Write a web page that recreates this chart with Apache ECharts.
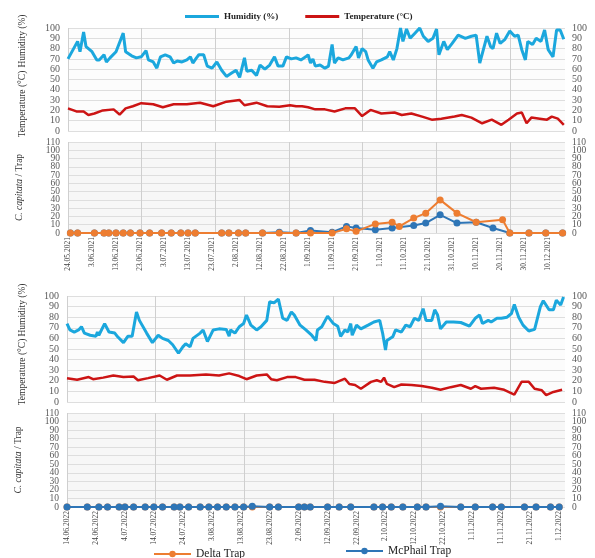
<!DOCTYPE html>
<html><head><meta charset="utf-8">
<script src="https://cdn.jsdelivr.net/npm/echarts@6/dist/echarts.min.js"></script>
<style>html,body{margin:0;padding:0;background:#fff}#c{width:595px;height:558px}</style>
</head><body><div id="c"></div>
<script>
// ---------- 2021 (top panel) ----------
const labels2021 = ['24.05.2021','3.06.2021','13.06.2021','23.06.2021','3.07.2021','13.07.2021','23.07.2021','2.08.2021','12.08.2021','22.08.2021','1.09.2021','11.09.2021','21.09.2021','1.10.2021','11.10.2021','21.10.2021','31.10.2021','10.11.2021','20.11.2021','30.11.2021','10.12.2021'];
const humDays2021 = [0,4,5,6.5,7.5,10,12,13,15,16,17.5,20,23,24,26.5,28.5,30.5,32.5,33.5,35.5,37,38.5,40.5,42.5,44,45.5,47.5,49.5,51,52,53.5,54.5,56.5,58,60,62,64,66,68,70,71.5,73.5,74.5,76.5,78.5,80,82,84,86,87.5,89.5,91,93,95,97,99,100,101,102,103,105,107,108.5,110,111,112.5,114.5,117,118,120,121,122.5,124,125,127,128.5,130.5,133,134,135.5,137,138.5,139.5,141,142.5,144.5,146.5,148,150,152,153.5,154.5,156.5,158,160,162.5,165.5,168,170,171.5,173,174.5,176,177,178.5,180,182,184,186,187.5,189,190.5,191.5,193.5,195,197,198.5,200,202,203.5,205,206.5];
const humVals2021 = [70,87,77,96,82,77,69,69,74,67,71,77,95,77,73,71,72,78,69,67,61,72,74,72,66,68,67,69,72,66,71,74,74,63,61,67,59,53,56,59,52,71,58,59,54,64,60,64,72,63,63,72,70,71,69,72,74,66,70,63,64,61,63,84,66,71,69,71,74,82,71,80,77,69,61,67,69,72,77,69,80,100,87,99,90,95,100,92,87,90,99,74,87,79,85,93,90,92,93,66,79,92,82,80,95,85,89,97,92,93,79,69,87,84,90,87,98,79,72,98,98,89];
const tempDays2021 = [0,3.5,6.5,8.5,11,14.5,19,21.5,24,27,30.5,35.5,39.5,44,49.5,55,60.5,66,71.5,73.5,78.5,83,88,92.5,95,97.5,100,103,107,111,115.5,119.5,122.5,126,130.5,136,139,143,147.5,151.5,155.5,161,164,168,172.5,176.5,180.5,183.5,187,189,191,193,196.5,199.5,201.5,204,206.5];
const tempVals2021 = [22,19,19,15.5,17,20,21,16,22,24,27,26,23,26,26,27.5,24,28.5,30,25,27.5,24,23.5,25,24,24,23,21,21,19,22,22,14.5,20.5,17,18,15.5,17,14,11,12,14,15.5,13,7.5,11,6,11,17,18,7.5,13,12,11,14,12,6];
const deltaDays2021 = [1,4,11,15,17,20,23,26,30,34,39,43,47,50,53,64,67,71,74,81,88,95,101,110,116,120,128,135,138,144,149,155,162,170,181,184,192,199,206];
const deltaVals2021 = [0,0,0,0,0,0,0,0,0,0,0,0,0,0,0,0,0,0,0,0,0,0,0,0,5,2,11,13,8,18,24,40,24,13,16,0,0,0,0];
const mcDays2021 = [1,4,11,15,17,20,23,26,30,34,39,43,47,50,53,64,67,71,74,81,88,95,101,110,116,120,128,135,144,149,155,162,170,177,184,192,199,206];
const mcVals2021 = [0,0,0,0,0,0,0,0,0,0,0,0,0,0,0,0,0,0,0,0,1,0,3,1,8,6,4,6,9,12,22,12,13,6,0,0,0,0];

// ---------- 2022 (bottom panel) ----------
const labels2022 = ['14.06.2022','24.06.2022','4.07.2022','14.07.2022','24.07.2022','3.08.2022','13.08.2022','23.08.2022','2.09.2022','12.09.2022','22.09.2022','2.10.2022','12.10.2022','22.10.2022','1.11.2022','11.11.2022','21.11.2022','1.12.2022'];
const humDays2022 = [0,1,2.5,4,5,6,8,10,10.5,11,13,14.5,16.5,17.5,19.5,21,22.5,24,25,27.5,29.5,31.5,33,35,36.5,38.5,40,41,42.5,43.5,46,47,48.5,50.5,52.5,55,56,56.5,58,59.5,61,62,63.5,65.5,67,69,70,71.5,73,74.5,76,77.5,78.5,80.5,82.5,84.5,86,86.5,88,90,92,93.5,94.5,96,97,98,98.5,100,101.5,104,106,108,109,110,110.5,112.5,113.5,115.5,117,118.5,120,121.5,123,124,126,127,128,129,131,133.5,136,139,141,142.5,143.5,145.5,146.5,148.5,150,152,153.5,154.5,156,157.5,159.5,161.5,163.5,164.5,166.5,168,169,170.5,171.5];
const humVals2022 = [74,68,66,68,71,65,63,62,66,63,74,66,65,61.5,56,62,62,85,77,65,56,63,60,58,54,46,52,55,52,60,65,68,57,68,69,68.5,62,68,65,71,74,82,72.5,68,71,77,94.5,93.5,97,79,77,85,82,72.5,68,63,58,68,71,81,74,71.5,62,68,66,74,63,72.5,69,72.5,75.5,77,65,49,58,61.5,68,66,72.5,71,79,77,88,77,77,87,82,69,75.5,75.5,75,71.5,79,82,74,77,75.5,79,79,80,83.5,92,80,72.5,67,68.5,90,95.5,87,87,96,91.5,99];
const tempDays2022 = [0,3.5,7.5,9,12.5,16,19.5,23,24.5,28,32,34.5,38,42.5,48,52.5,56,59.5,62,65.5,69,70.5,72.5,76,79,82,85.5,89,92.5,96,97.5,99.5,101.5,105,107,108.5,109.5,110.5,113,115.5,119,122.5,126,129,132.5,136,139.5,141,143,147.5,151,154.5,157,159.5,161.5,164,165.5,168,171];
const tempVals2022 = [22.5,21,23.5,21.5,23,25,23.5,24,20.5,22.5,25,21,25,25,26,25,27,24.5,21.5,25,26,21.5,20.5,23.5,23.5,21,21,19,18,22,17,16,12.5,19,20.5,19,23,17,14,16.5,16,15,13.5,11.5,14,16,12.5,15,12.5,13.5,11.5,7,19,19,12.5,11,6.5,9.5,11.5];
const trapDays2022 = [0,7,11,14,18,20,23,27,30,33,37,39,42,46,49,52,55,58,61,64,70,73,80,82,84,90,94,98,106,109,112,116,121,124,129,136,141,147,150,158,162,167,170];
const deltaVals2022 = [0,0,0,0,0,0,0,0,0,0,0,0,0,0,0,0,0,0,0,0,0,0,0,0,0,0,0,0,0,0,0,0,0,0,0,0,0,0,0,0,0,0,0];
const mcVals2022 = [0,0,0,0,0,0,0,0,0,0,0,0,0,0,0,0,0,0,0,1,0,0,0,0,0,0,0,0,0,0,0,0,0,0,1,0,0,0,0,0,0,0,0];

const climateTicks = [0,100,10];
const trapTicks = [0,110,10];

const FONT = 'Liberation Serif';
const C_HUM = '#1ba7dd', C_TEMP = '#cc1414', C_DELTA = '#ED7D31', C_MC = '#2E75B6';
function zip(d, v) { return d.map((x, i) => [x, v[i]]); }

const grids = [
  {left: 68, right: 30, top: 28, height: 103, show: true, backgroundColor: '#fcfcfc', borderWidth: 0},
  {left: 68, right: 30, top: 142, height: 91, show: true, backgroundColor: '#f7f7f7', borderWidth: 0},
  {left: 67, right: 30, top: 296, height: 106, show: true, backgroundColor: '#fcfcfc', borderWidth: 0},
  {left: 67, right: 30, top: 413, height: 94, show: true, backgroundColor: '#f7f7f7', borderWidth: 0}
];
const panelMax = [207, 207, 172, 172];
const monthStep = [30.67, 30.67, 30.6, 30.6];
const panelLabels = [labels2021, labels2021, labels2022, labels2022];
const showLabels = [false, true, false, true];

const xAxis = [], yAxis = [], extraY = [];
grids.forEach((g, i) => {
  const labs = panelLabels[i];
  xAxis.push({
    type: 'value', gridIndex: i, min: 0, max: panelMax[i], interval: 10, position: 'bottom',
    axisLine: {show: false}, axisTick: {show: false}, splitLine: {show: false},
    axisLabel: {
      show: showLabels[i], rotate: 90, fontFamily: FONT, fontSize: 7.5, color: '#404040', margin: 4,
      showMinLabel: true,
      formatter: v => (v % 10 === 0 && labs[v / 10] !== undefined) ? labs[v / 10] : ''
    }
  });
  xAxis.push({
    type: 'value', gridIndex: i, min: 0, max: panelMax[i], interval: monthStep[i], position: 'top',
    axisLine: {show: false, onZero: false}, axisTick: {show: false}, axisLabel: {show: false},
    splitLine: {show: true, showMaxLine: false, lineStyle: {color: '#cfcfcf', width: 1}}
  });
  const t = (i % 2 === 0) ? climateTicks : trapTicks;
  const isTrap = i % 2 === 1;
  const lab = {fontFamily: FONT, fontSize: isTrap ? 9.5 : 10, color: '#595959'};
  yAxis.push({
    type: 'value', gridIndex: i, min: t[0], max: t[1], interval: t[2], position: 'left',
    axisLine: {show: false}, axisTick: {show: false},
    splitLine: {show: true, lineStyle: {color: '#dedede', width: 1}},
    axisLabel: Object.assign({margin: 8}, lab),
    name: isTrap ? '{i|C. capitata} / Trap' : '', nameLocation: 'middle', nameRotate: 90, nameGap: 44,
    nameTextStyle: {fontFamily: FONT, fontSize: 9.5, color: '#333', rich: {i: {fontStyle: 'italic', fontFamily: FONT, fontSize: 9.5, color: '#333'}}}
  });
  yAxis.push({
    type: 'value', gridIndex: i, min: t[0], max: t[1], interval: t[2], position: 'right',
    axisLine: {show: false}, axisTick: {show: false}, splitLine: {show: false},
    axisLabel: Object.assign({margin: 7}, lab)
  });
  if (isTrap) {
    // companion axes that carry only the end tick labels (the main axis drops them as overlapping)
    ['left', 'right'].forEach(pos => extraY.push({
      type: 'value', gridIndex: i, min: t[0], max: t[1], interval: t[2], position: pos,
      axisLine: {show: false}, axisTick: {show: false}, splitLine: {show: false},
      axisLabel: Object.assign({margin: pos === 'left' ? 8 : 7, showMinLabel: true, showMaxLabel: true,
        formatter: v => (v === t[0] || v === t[1]) ? String(v) : ''}, lab)
    }));
  }
});
extraY.forEach(a => yAxis.push(a));

function climate(name, data, color, width, gi) {
  return {name, type: 'line', xAxisIndex: 2 * gi, yAxisIndex: 2 * gi, data, symbol: 'none',
    lineStyle: {color, width}, itemStyle: {color}, z: 3};
}
function trap(name, data, color, gi, z) {
  return {name, type: 'line', xAxisIndex: 2 * gi, yAxisIndex: 2 * gi, data, symbol: 'circle', symbolSize: 7,
    lineStyle: {color, width: 2}, itemStyle: {color}, z};
}

const series = [
  climate('Humidity (%)', zip(humDays2021, humVals2021), C_HUM, 3, 0),
  climate('Temperature (°C)', zip(tempDays2021, tempVals2021), C_TEMP, 2.5, 0),
  trap('McPhail Trap', zip(mcDays2021, mcVals2021), C_MC, 1, 3),
  trap('Delta Trap', zip(deltaDays2021, deltaVals2021), C_DELTA, 1, 4),
  climate('Humidity (%)', zip(humDays2022, humVals2022), C_HUM, 3, 2),
  climate('Temperature (°C)', zip(tempDays2022, tempVals2022), C_TEMP, 2.5, 2),
  trap('Delta Trap', zip(trapDays2022, deltaVals2022), C_DELTA, 3, 3),
  trap('McPhail Trap', zip(trapDays2022, mcVals2022), C_MC, 3, 4)
];

function vtext(text, x, y) {
  return {type: 'text', x, y, rotation: Math.PI / 2,
    style: {text, fontFamily: FONT, fontSize: 9.5, fill: '#333', textAlign: 'center', textVerticalAlign: 'middle'}};
}

const option = {
  animation: false,
  backgroundColor: '#fff',
  grid: grids, xAxis, yAxis, series,
  legend: [
    {data: ['Humidity (%)', 'Temperature (°C)'], left: 180, top: 7, icon: 'rect', itemWidth: 34, itemHeight: 3, itemGap: 27,
      textStyle: {fontFamily: FONT, fontSize: 9, fontWeight: 'bold', color: '#222'}},
    {data: ['Delta Trap'], left: 148, top: 543, itemWidth: 37, itemHeight: 8,
      textStyle: {fontFamily: FONT, fontSize: 11.5, color: '#222'}},
    {data: ['McPhail Trap'], left: 340, top: 540, itemWidth: 37, itemHeight: 8,
      textStyle: {fontFamily: FONT, fontSize: 11.5, color: '#222'}}
  ],
  graphic: [
    vtext('Humidity (%)', 22, 41),
    vtext('Temperature (°C)', 22, 104),
    vtext('Humidity (%)', 22, 310),
    vtext('Temperature (°C)', 22, 372)
  ]
};
const chart = echarts.init(document.getElementById('c'), null, {renderer: 'canvas'});
chart.setOption(option);
</script></body></html>
